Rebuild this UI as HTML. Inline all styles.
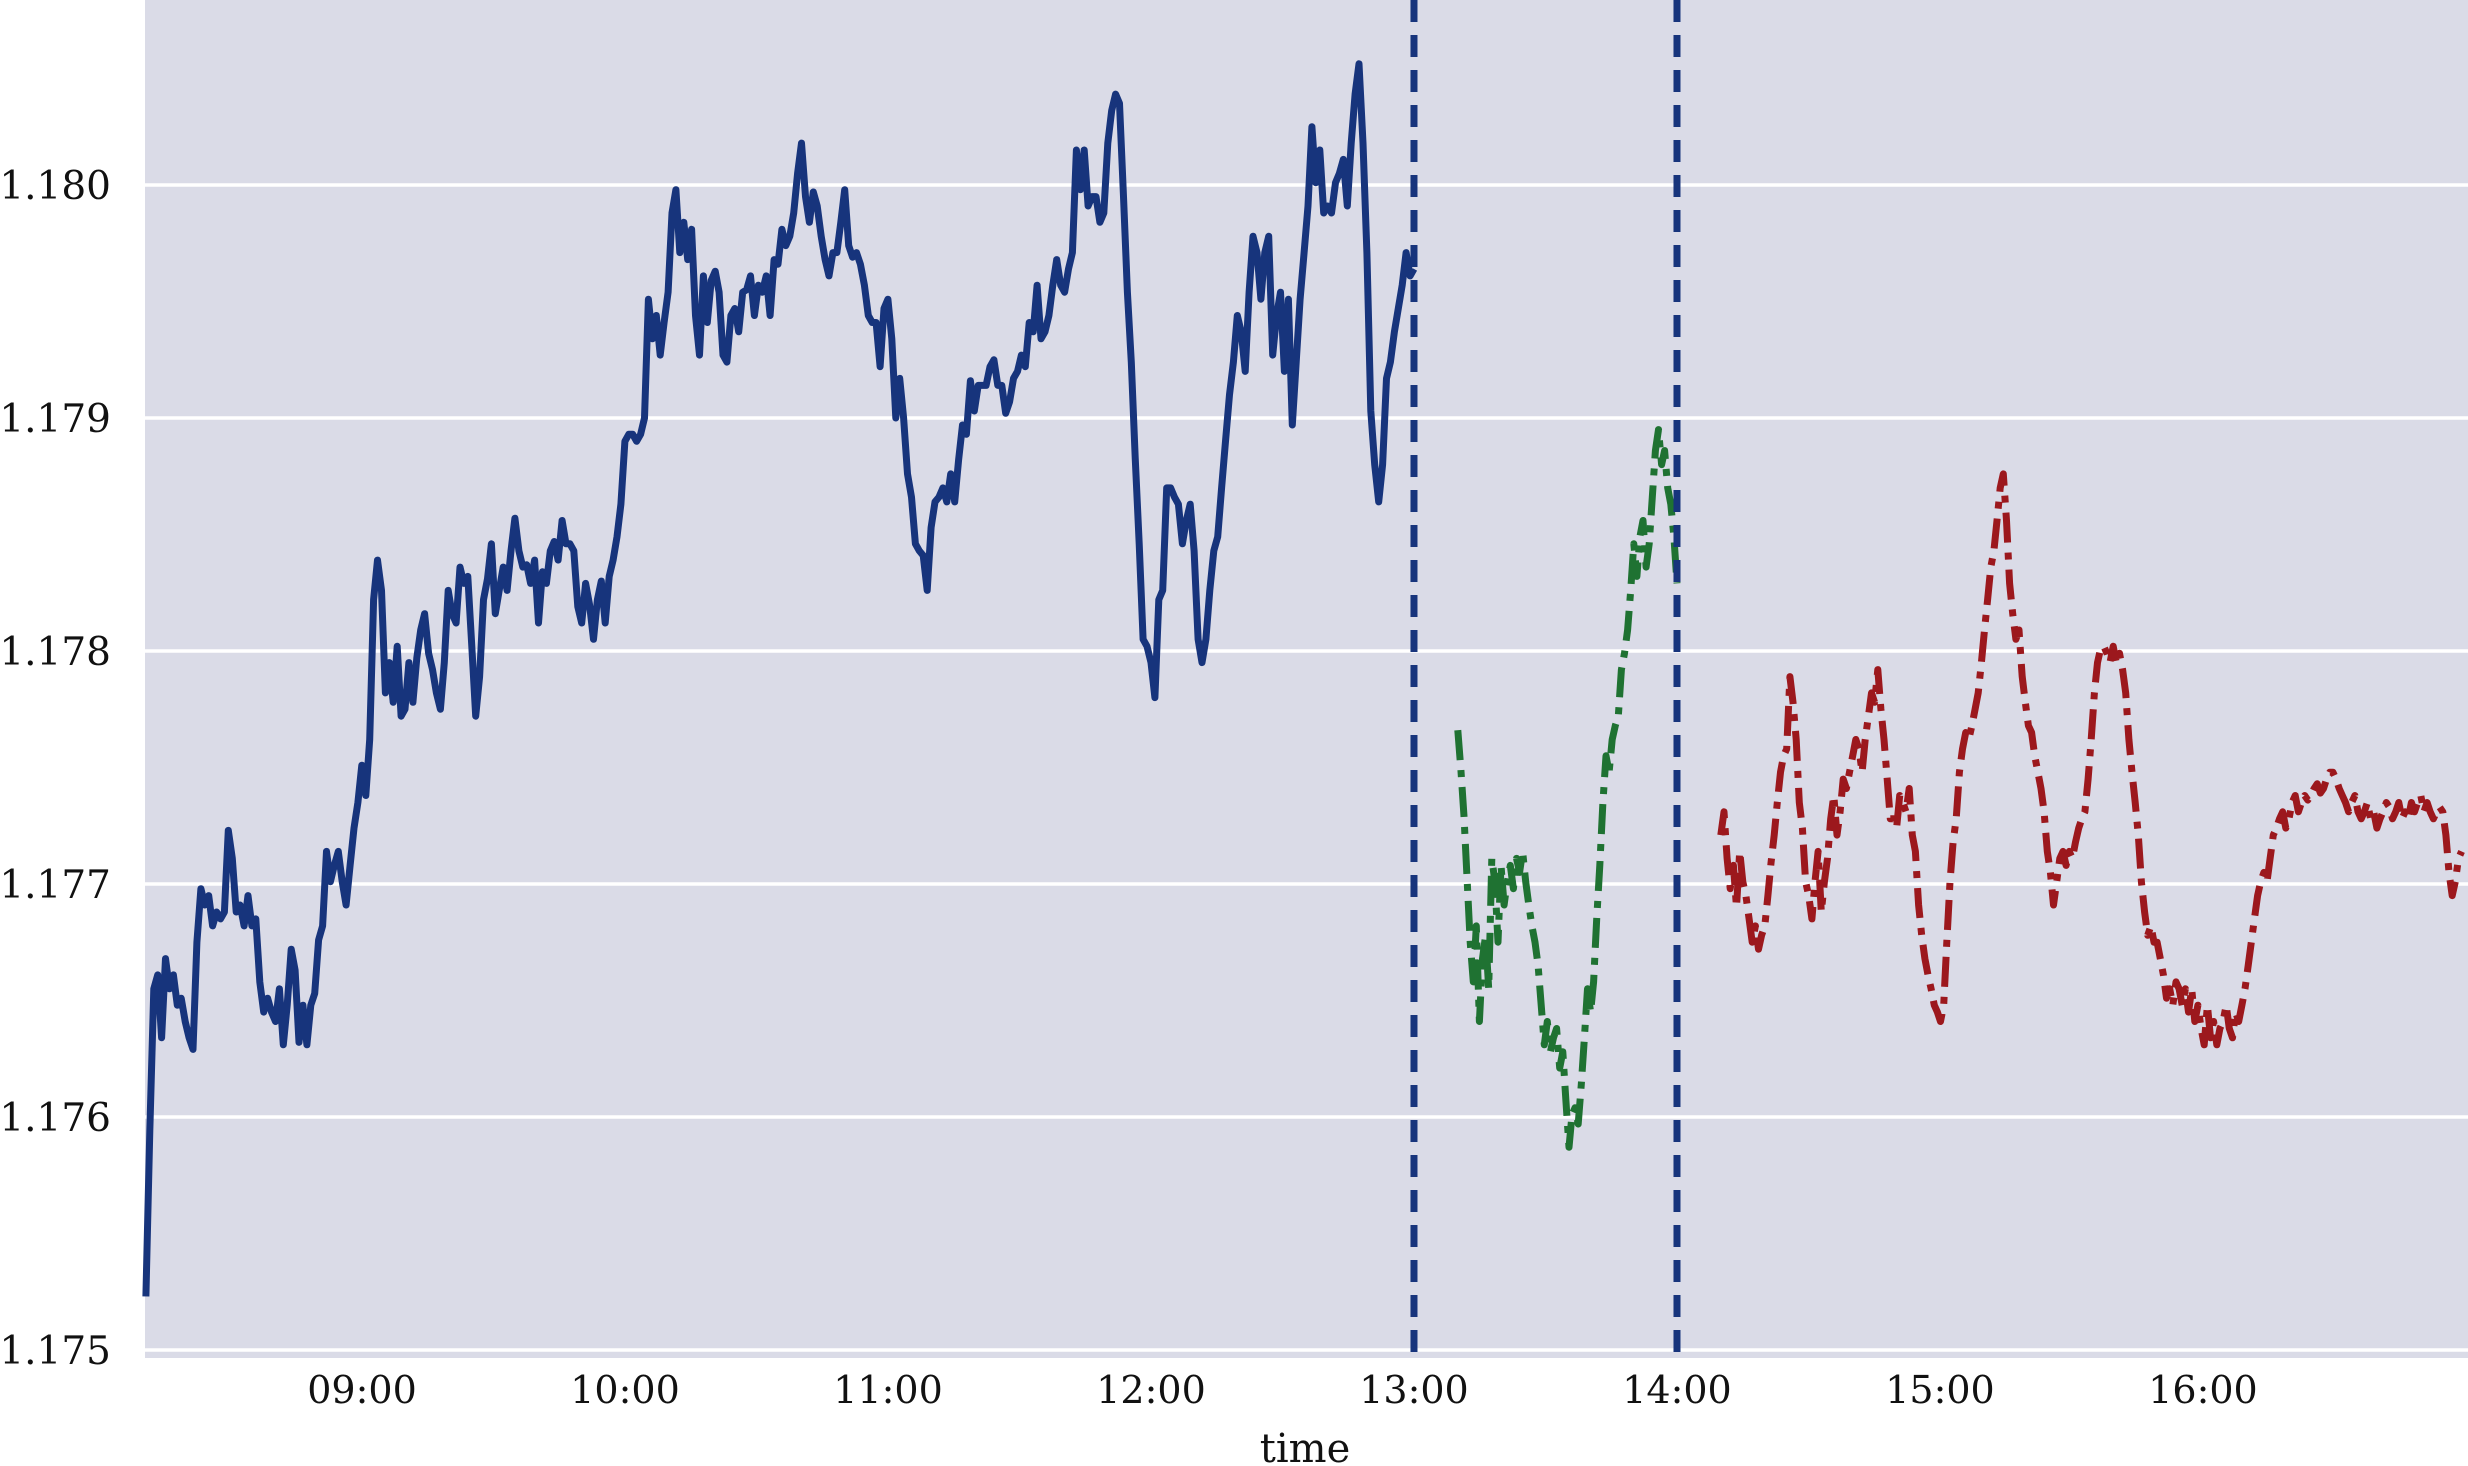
<!DOCTYPE html>
<html><head><meta charset="utf-8">
<style>
html,body{margin:0;padding:0;background:#fff;}
svg{display:block;}
text{font-family:"DejaVu Serif","Liberation Serif",serif;fill:#111;}
</style></head>
<body>
<svg id="chart" width="2468" height="1466" viewBox="0 0 2468 1466" xmlns="http://www.w3.org/2000/svg">
<rect x="145" y="0" width="2323" height="1358" fill="#dadbe7"/>
<g id="grid"></g>
<g id="yticks"></g>
<g id="xticks"></g>
<g id="series"></g>
<text x="1305" y="1462" font-size="40" text-anchor="middle">time</text>
</svg>
<script>
const yTicks = [1.175, 1.176, 1.177, 1.178, 1.179, 1.180];
const yTickLabels = ["1.175","1.176","1.177","1.178","1.179","1.180"];
const xTickMinutes = [60, 120, 180, 240, 300, 360, 420, 480];
const xTickLabels = ["09:00","10:00","11:00","12:00","13:00","14:00","15:00","16:00"];
const markerMinutes = [300, 360];
const blueStart = 10.7, blueEnd = 300;
const greenStart = 310, greenEnd = 360;
const redStart = 370, redEnd = 539;
const bluePrices = [1.17523,1.17594,1.17655,1.17661,1.17634,1.17668,1.17655,1.17661,1.17648,1.17651,1.17641,1.17634,1.17629,1.17675,1.17698,1.17691,1.17695,1.17682,1.17688,1.17685,1.17688,1.17723,1.17711,1.17688,1.17691,1.17682,1.17695,1.17682,1.17685,1.17658,1.17645,1.17651,1.17645,1.17641,1.17655,1.17631,1.17648,1.17672,1.17663,1.17632,1.17648,1.17631,1.17648,1.17653,1.17676,1.17682,1.17714,1.17701,1.17708,1.17714,1.17701,1.17691,1.17708,1.17724,1.17735,1.17751,1.17738,1.17762,1.17822,1.17839,1.17826,1.17782,1.17795,1.17778,1.17802,1.17772,1.17775,1.17795,1.17778,1.17797,1.17809,1.17816,1.17799,1.17792,1.17782,1.17775,1.17795,1.17826,1.17816,1.17812,1.17836,1.17829,1.17832,1.17802,1.17772,1.17789,1.17822,1.17831,1.17846,1.17816,1.17826,1.17836,1.17826,1.17843,1.17857,1.17843,1.17836,1.17837,1.17829,1.17839,1.17812,1.17834,1.17829,1.17843,1.17847,1.17839,1.17856,1.17846,1.17846,1.17843,1.17819,1.17812,1.17829,1.17820,1.17805,1.17822,1.17830,1.17812,1.17832,1.17839,1.17849,1.17863,1.17890,1.17893,1.17893,1.17890,1.17893,1.17900,1.17951,1.17934,1.17944,1.17927,1.17941,1.17954,1.17988,1.17998,1.17971,1.17984,1.17968,1.17981,1.17944,1.17927,1.17961,1.17941,1.17959,1.17963,1.17954,1.17927,1.17924,1.17944,1.17947,1.17937,1.17954,1.17955,1.17961,1.17944,1.17957,1.17954,1.17961,1.17944,1.17968,1.17966,1.17981,1.17974,1.17978,1.17988,1.18005,1.18018,1.17995,1.17984,1.17997,1.17991,1.17978,1.17968,1.17961,1.17971,1.17971,1.17984,1.17998,1.17974,1.17969,1.17971,1.17966,1.17957,1.17944,1.17941,1.17941,1.17922,1.17947,1.17951,1.17934,1.17900,1.17917,1.17900,1.17876,1.17866,1.17846,1.17843,1.17841,1.17826,1.17853,1.17864,1.17866,1.17870,1.17864,1.17876,1.17864,1.17882,1.17897,1.17893,1.17916,1.17903,1.17914,1.17914,1.17914,1.17922,1.17925,1.17914,1.17914,1.17902,1.17907,1.17917,1.17920,1.17927,1.17922,1.17941,1.17937,1.17957,1.17934,1.17937,1.17944,1.17957,1.17968,1.17957,1.17954,1.17964,1.17971,1.18015,1.17998,1.18015,1.17991,1.17995,1.17995,1.17984,1.17988,1.18018,1.18032,1.18039,1.18035,1.17995,1.17954,1.17924,1.17883,1.17846,1.17805,1.17802,1.17795,1.17780,1.17822,1.17826,1.17870,1.17870,1.17866,1.17863,1.17846,1.17856,1.17863,1.17843,1.17805,1.17795,1.17805,1.17826,1.17843,1.17849,1.17870,1.17890,1.17910,1.17924,1.17944,1.17937,1.17920,1.17954,1.17978,1.17971,1.17951,1.17971,1.17978,1.17927,1.17944,1.17954,1.17920,1.17951,1.17897,1.17924,1.17951,1.17971,1.17991,1.18025,1.18001,1.18015,1.17988,1.17991,1.17988,1.18001,1.18005,1.18011,1.17991,1.18018,1.18039,1.18052,1.18018,1.17971,1.17903,1.17880,1.17864,1.17880,1.17917,1.17924,1.17937,1.17947,1.17957,1.17971,1.17961,1.17964];
const greenPrices = [1.17766,1.17749,1.17729,1.17702,1.17675,1.17658,1.17682,1.17641,1.17668,1.17678,1.17655,1.17711,1.17701,1.17675,1.17708,1.17691,1.17701,1.17708,1.17698,1.17711,1.17705,1.17714,1.17701,1.17691,1.17682,1.17675,1.17665,1.17648,1.17631,1.17641,1.17628,1.17634,1.17638,1.17621,1.17628,1.17607,1.17587,1.17601,1.17604,1.17597,1.17614,1.17634,1.17655,1.17645,1.17658,1.17685,1.17708,1.17735,1.17755,1.17748,1.17762,1.17768,1.17772,1.17792,1.17799,1.17809,1.17826,1.17846,1.17832,1.17849,1.17856,1.17836,1.17846,1.17866,1.17886,1.17895,1.17880,1.17886,1.17870,1.17863,1.17849,1.17829];
const redPrices = [1.17721,1.17731,1.17711,1.17698,1.17708,1.17690,1.17714,1.17701,1.17695,1.17685,1.17675,1.17682,1.17672,1.17678,1.17682,1.17695,1.17709,1.17721,1.17735,1.17748,1.17755,1.17758,1.17789,1.17778,1.17762,1.17735,1.17724,1.17701,1.17695,1.17685,1.17701,1.17714,1.17688,1.17701,1.17711,1.17728,1.17738,1.17721,1.17731,1.17745,1.17741,1.17748,1.17755,1.17762,1.17758,1.17748,1.17762,1.17772,1.17782,1.17778,1.17792,1.17775,1.17762,1.17745,1.17728,1.17728,1.17724,1.17738,1.17735,1.17731,1.17741,1.17721,1.17714,1.17691,1.17678,1.17668,1.17661,1.17655,1.17648,1.17645,1.17641,1.17648,1.17675,1.17701,1.17718,1.17728,1.17748,1.17758,1.17765,1.17762,1.17768,1.17775,1.17782,1.17795,1.17809,1.17822,1.17836,1.17843,1.17856,1.17870,1.17876,1.17856,1.17829,1.17816,1.17805,1.17809,1.17789,1.17778,1.17768,1.17765,1.17755,1.17748,1.17741,1.17731,1.17714,1.17705,1.17691,1.17701,1.17711,1.17714,1.17708,1.17714,1.17711,1.17718,1.17724,1.17728,1.17731,1.17745,1.17762,1.17782,1.17795,1.17801,1.17802,1.17799,1.17795,1.17802,1.17795,1.17799,1.17792,1.17782,1.17762,1.17748,1.17735,1.17721,1.17701,1.17688,1.17678,1.17682,1.17675,1.17675,1.17668,1.17661,1.17651,1.17655,1.17648,1.17658,1.17655,1.17648,1.17655,1.17645,1.17655,1.17641,1.17648,1.17638,1.17631,1.17648,1.17634,1.17641,1.17631,1.17638,1.17641,1.17648,1.17638,1.17634,1.17645,1.17641,1.17648,1.17655,1.17665,1.17675,1.17685,1.17695,1.17701,1.17705,1.17701,1.17711,1.17721,1.17724,1.17728,1.17731,1.17724,1.17728,1.17735,1.17738,1.17731,1.17735,1.17738,1.17736,1.17738,1.17741,1.17743,1.17739,1.17741,1.17745,1.17748,1.17748,1.17745,1.17741,1.17738,1.17735,1.17731,1.17735,1.17738,1.17731,1.17728,1.17731,1.17735,1.17728,1.17731,1.17724,1.17728,1.17731,1.17735,1.17733,1.17728,1.17731,1.17735,1.17728,1.17731,1.17728,1.17735,1.17731,1.17735,1.17738,1.17731,1.17735,1.17731,1.17728,1.17731,1.17733,1.17731,1.17721,1.17705,1.17695,1.17701,1.17711,1.17714];

const NS = "http://www.w3.org/2000/svg";
function xScale(m){ return 362 + (m - 60) * 4.3833; }
function yScale(p){ return 185 + (1.180 - p) * 233000; }
function mk(tag, attrs, parent){
  const el = document.createElementNS(NS, tag);
  for (const k in attrs) el.setAttribute(k, attrs[k]);
  parent.appendChild(el);
  return el;
}
const grid = document.getElementById('grid');
const yt = document.getElementById('yticks');
const xt = document.getElementById('xticks');
const series = document.getElementById('series');

yTicks.forEach((v, i) => {
  const y = yScale(v);
  const gl = mk('line', {x1:145, x2:2468, y1:y, y2:y, stroke:'#ffffff', 'stroke-width':3.5}, grid);
  
  
  const t = mk('text', {x:111, y:y + 14, 'font-size':39, 'text-anchor':'end'}, yt);
  t.textContent = yTickLabels[i];
  
  
});
xTickMinutes.forEach((m, i) => {
  const t = mk('text', {x:xScale(m), y:1403, 'font-size':38, 'text-anchor':'middle'}, xt);
  t.textContent = xTickLabels[i];
  
  
});

function drawSeries(prices, start, end, color, dash, name){
  const step = (end - start) / (prices.length - 1);
  let d = '';
  prices.forEach((p, i) => {
    d += (i ? 'L' : 'M') + xScale(start + i * step).toFixed(1) + ' ' + yScale(p).toFixed(1);
  });
  const attrs = {d:d, fill:'none', stroke:color, 'stroke-width':7, 'stroke-linejoin':'round'};
  if (dash) attrs['stroke-dasharray'] = dash;
  const path = mk('path', attrs, series);
  
  
}
drawSeries(bluePrices, blueStart, blueEnd, '#17347c', null, 'price-line-morning');
drawSeries(greenPrices, greenStart, greenEnd, '#1f7232', '30 10 7 10', 'price-line-window');
drawSeries(redPrices, redStart, redEnd, '#9c181d', '30 10 7 10', 'price-line-afternoon');

markerMinutes.forEach(m => {
  const x = xScale(m);
  const vl = mk('line', {x1:x, x2:x, y1:0, y2:1358, stroke:'#17347c', 'stroke-width':7, 'stroke-dasharray':'22 13'}, series);
  
  
});
</script>
</body></html>
